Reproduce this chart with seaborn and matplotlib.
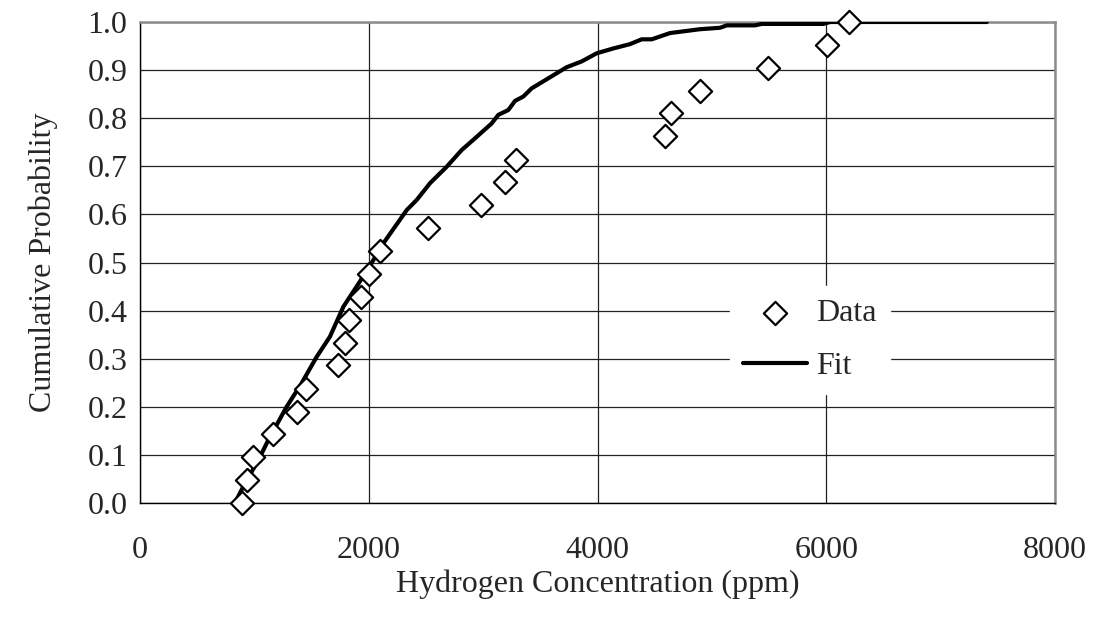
import matplotlib
matplotlib.use("Agg")
import matplotlib.pyplot as plt
import seaborn as sns
import pandas as pd

# Measured hydrogen concentrations (ppm) and their cumulative probabilities
data_ppm = [889, 933, 985, 1160, 1376, 1451, 1734, 1795, 1830, 1929, 2005,
            2098, 2521, 2981, 3191, 3287, 4590, 4643, 4896, 5494, 6010, 6202]
data_prob = [0.000, 0.048, 0.095, 0.143, 0.190, 0.238, 0.286, 0.333, 0.381,
             0.429, 0.476, 0.524, 0.571, 0.619, 0.667, 0.714, 0.762, 0.810,
             0.857, 0.905, 0.952, 1.000]

# Fitted cumulative distribution
fit_ppm = [830, 918, 1035, 1122, 1282, 1413, 1545, 1661, 1778, 1894, 2005,
           2128, 2332, 2419, 2536, 2681, 2813, 2914, 3074, 3133, 3220, 3279,
           3351, 3424, 3570, 3730, 3861, 3993, 4138, 4284, 4386, 4474, 4634,
           4896, 5071, 5130, 5377, 5435, 5974, 6033, 7403]
fit_prob = [0.000, 0.041, 0.089, 0.131, 0.200, 0.249, 0.304, 0.346, 0.408,
            0.450, 0.491, 0.540, 0.609, 0.630, 0.665, 0.699, 0.734, 0.755,
            0.789, 0.807, 0.817, 0.836, 0.845, 0.862, 0.883, 0.906, 0.918,
            0.935, 0.945, 0.954, 0.964, 0.964, 0.977, 0.985, 0.988, 0.993,
            0.993, 0.996, 0.996, 1.000, 1.000]

x_ticks = [0, 2000, 4000, 6000, 8000]
y_ticks = [round(0.1 * i, 1) for i in range(11)]

df_data = pd.DataFrame({"ppm": data_ppm, "prob": data_prob})
df_fit = pd.DataFrame({"ppm": fit_ppm, "prob": fit_prob})

sns.set_style("white")
plt.rcParams["font.family"] = ["Liberation Serif", "DejaVu Serif"]

FS = 23

fig = plt.figure(figsize=(10.96, 6.23), dpi=100)
ax = fig.add_axes([0.1277, 0.1926, 0.835, 0.7721])

sns.lineplot(data=df_fit, x="ppm", y="prob", ax=ax, color="black",
             linewidth=3.0, sort=False, estimator=None, label="Fit", zorder=3)
sns.scatterplot(data=df_data, x="ppm", y="prob", ax=ax, marker="D", s=140,
                facecolor="white", edgecolor="black", linewidth=1.6,
                label="Data", zorder=4, clip_on=False)

ax.set_xlim(0, 8000)
ax.set_ylim(0, 1.0)
ax.set_xticks(x_ticks)
ax.set_yticks(y_ticks)
ax.set_xticklabels([str(v) for v in x_ticks])
ax.set_yticklabels([f"{v:.1f}" for v in y_ticks])
ax.tick_params(axis="both", labelsize=FS, length=7, width=1.0,
               direction="out", color="black")
ax.tick_params(axis="y", pad=2)
ax.tick_params(axis="x", pad=17)

ax.grid(True, color="#222222", linewidth=0.9)
ax.set_axisbelow(True)

for side in ("left", "bottom"):
    ax.spines[side].set_color("black")
    ax.spines[side].set_linewidth(1.0)
for side in ("top", "right"):
    ax.spines[side].set_color("#8c8c8c")
    ax.spines[side].set_linewidth(1.8)

ax.set_xlabel("Hydrogen Concentration (ppm)", fontsize=FS, labelpad=3)
ax.set_ylabel("Cumulative Probability", fontsize=FS, labelpad=21)

handles, labels = ax.get_legend_handles_labels()
order = [labels.index("Data"), labels.index("Fit")]
leg = ax.legend([handles[i] for i in order], [labels[i] for i in order],
                loc="center", bbox_to_anchor=(0.732, 0.339), fontsize=FS,
                frameon=True, fancybox=False, handlelength=2.0,
                handletextpad=0.3, borderpad=0.4, labelspacing=0.75,
                borderaxespad=0)
leg.get_frame().set_facecolor("white")
leg.get_frame().set_edgecolor("white")
leg.get_frame().set_alpha(1.0)

fig.savefig("out.png", dpi=100)
